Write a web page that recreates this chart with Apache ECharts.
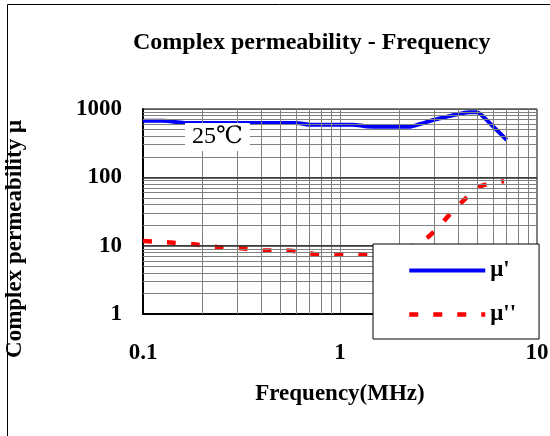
<!DOCTYPE html>
<html>
<head>
<meta charset="utf-8">
<script src="https://cdn.jsdelivr.net/npm/echarts@6/dist/echarts.min.js"></script>
<style>html,body{margin:0;padding:0;background:#fff;}#c{width:550px;height:436px;}</style>
</head>
<body>
<div id="c"></div>
<script>
// ---- data ----
var muRealFreq = [0.1, 0.126, 0.163, 0.6, 0.7, 1.16, 1.38, 2.02, 2.26, 2.55, 2.98, 3.48, 4.06, 4.57, 4.94, 5.34, 6.0, 7.02];
var muRealVal  = [674, 674, 625, 625, 590, 590, 555, 548, 552, 604, 690, 772, 853, 893, 893, 772, 551, 352];
var muImagFreq = [0.1, 0.138, 0.185, 0.238, 0.313, 0.411, 0.519, 0.682, 0.767, 0.932, 1.377, 1.7, 2.1, 2.65, 3.03, 3.66, 4.5, 5.15, 6.8];
var muImagVal  = [11.7, 11.1, 10.4, 9.6, 9.2, 8.5, 8.5, 7.9, 7.4, 7.5, 7.5, 7.6, 8.8, 11.9, 16.5, 30, 54, 74, 88];
var xTickLabels = ['0.1', '1', '10'];
var yTickLabels = ['1', '10', '100', '1000'];
var xMinorGrid = [0.2, 0.3, 0.4, 0.5, 0.6, 0.7, 0.8, 0.9, 2, 3, 4, 5, 6, 7, 8, 9];
var yMinorGrid = [2, 3, 4, 5, 6, 7, 8, 9, 20, 30, 40, 50, 60, 70, 80, 90, 200, 300, 400, 500, 600, 700, 800, 900];
var yMajorInner = [10, 100];
var seriesNames = ["μ'", "μ''"];
var annotation = '25℃';

function zip(a, b) { return a.map(function (v, i) { return [v, b[i]]; }); }

var FONT = "'Liberation Serif', 'Times New Roman', serif";
var DASH = [9, 15];

var gridLines = [];
xMinorGrid.forEach(function (v) { gridLines.push({ xAxis: v, lineStyle: { color: '#808080', width: 1, type: 'solid' } }); });
yMinorGrid.forEach(function (v) { gridLines.push({ yAxis: v, lineStyle: { color: '#808080', width: 1, type: 'solid' } }); });
yMajorInner.forEach(function (v) { gridLines.push({ yAxis: v, lineStyle: { color: '#333', width: 1.5, type: 'solid' } }); });

var chart = echarts.init(document.getElementById('c'), null, { renderer: 'canvas' });
chart.setOption({
  animation: false,
  backgroundColor: '#fff',
  title: {
    text: 'Complex permeability - Frequency',
    left: 133, top: 31, padding: 0,
    textStyle: { fontFamily: FONT, fontWeight: 'bold', fontSize: 24, color: '#000', lineHeight: 24 }
  },
  grid: { left: 143, right: 13, top: 109, bottom: 122, show: true, borderColor: '#000', borderWidth: 1,
          backgroundColor: 'transparent', outerBoundsMode: 'none', containLabel: false },
  xAxis: {
    type: 'log', logBase: 10, min: 0.1, max: 10,
    name: 'Frequency(MHz)', nameLocation: 'middle', nameGap: 69,
    nameTextStyle: { fontFamily: FONT, fontWeight: 'bold', fontSize: 23, color: '#000', lineHeight: 23 },
    axisLine: { show: true, lineStyle: { color: '#000', width: 2 } },
    axisTick: { show: false },
    splitLine: { show: true, lineStyle: { color: '#808080', width: 1 } },
    axisLabel: {
      margin: 28, fontFamily: FONT, fontWeight: 'bold', fontSize: 23, color: '#000', lineHeight: 23,
      formatter: function (v) { var i = Math.round(Math.log10(v)) + 1; return xTickLabels[i] || ''; }
    }
  },
  yAxis: {
    type: 'log', logBase: 10, min: 1, max: 1000,
    name: 'Complex permeability μ', nameLocation: 'middle', nameGap: 116,
    nameTextStyle: { fontFamily: FONT, fontWeight: 'bold', fontSize: 23, color: '#000', lineHeight: 23, padding: [0, 55, 0, 0] },
    axisLine: { show: true, lineStyle: { color: '#000', width: 2 } },
    axisTick: { show: false },
    splitLine: { show: true, lineStyle: { color: '#555', width: 1 } },
    axisLabel: {
      margin: 21, fontFamily: FONT, fontWeight: 'bold', fontSize: 23, color: '#000',
      formatter: function (v) { var i = Math.round(Math.log10(v)); return yTickLabels[i] || ''; }
    }
  },
  legend: {
    data: [
      { name: seriesNames[0], lineStyle: { width: 4, color: '#0000ff', type: 'solid' } },
      { name: seriesNames[1], lineStyle: { width: 4.5, color: '#ff0000', type: DASH, dashOffset: 0 } }
    ],
    orient: 'vertical', left: 373, top: 244,
    padding: [15, 23, 13, 34], itemWidth: 76, itemHeight: 20, itemGap: 21,
    itemStyle: { opacity: 0 },
    backgroundColor: '#fff', borderColor: '#000', borderWidth: 1, borderRadius: 0,
    textStyle: { fontFamily: FONT, fontWeight: 'bold', fontSize: 23, color: '#000', lineHeight: 20 },
    z: 10
  },
  graphic: [
    { type: 'rect', shape: { x: 7.5, y: 4.5, width: 600, height: 500 }, style: { fill: 'none', stroke: '#000', lineWidth: 1 }, z: -10, silent: true },
    { type: 'text', x: 185, y: 123, z: 100, silent: true,
      style: { text: annotation, font: "24px 'Liberation Serif', 'DejaVu Serif', serif", fill: '#000', backgroundColor: '#fff', padding: [2, 7, 2, 7] } }
  ],
  series: [
    { type: 'line', name: '_grid', data: [], z: 1, silent: true,
      markLine: { silent: true, symbol: ['none', 'none'], label: { show: false }, animation: false, data: gridLines } },
    { type: 'line', name: seriesNames[0], data: zip(muRealFreq, muRealVal), smooth: 0.3, showSymbol: false, symbol: 'none', z: 3,
      lineStyle: { color: '#0000ff', width: 4 }, itemStyle: { color: '#0000ff' } },
    { type: 'line', name: seriesNames[1], data: zip(muImagFreq, muImagVal), smooth: 0.3, showSymbol: false, symbol: 'none', z: 3,
      lineStyle: { color: '#ff0000', width: 4.5, type: DASH }, itemStyle: { color: '#ff0000' } }
  ]
});
</script>
</body>
</html>
